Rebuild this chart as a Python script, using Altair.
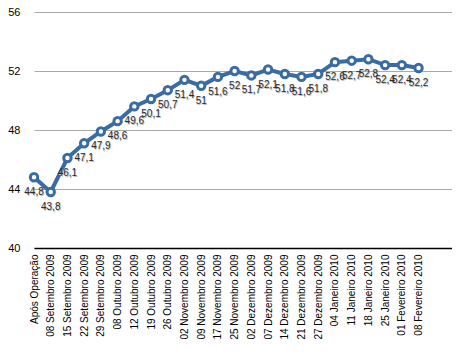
import altair as alt
import pandas as pd

categories = [
    "Após Operação", "08 Setembro 2009", "15 Setembro 2009", "22 Setembro 2009",
    "29 Setembro 2009", "08 Outubro 2009", "12 Outubro 2009", "19 Outubro 2009",
    "26 Outubro 2009", "02 Novembro 2009", "09 Novembro 2009", "17 Novembro 2009",
    "25 Novembro 2009", "02 Dezembro 2009", "07 Dezembro 2009", "14 Dezembro 2009",
    "21 Dezembro 2009", "27 Dezembro 2009", "04 Janeiro 2010", "11 Janeiro 2010",
    "18 Janeiro 2010", "25 Janeiro 2010", "01 Fevereiro 2010", "08 Fevereiro 2010",
]
values = [44.8, 43.8, 46.1, 47.1, 47.9, 48.6, 49.6, 50.1, 50.7, 51.4, 51.0, 51.6,
          52.0, 51.7, 52.1, 51.8, 51.6, 51.8, 52.6, 52.7, 52.8, 52.4, 52.4, 52.2]
y_ticks = [40, 44, 48, 52, 56]


def fmt(v):
    return str(int(v)) if float(v).is_integer() else str(v).replace(".", ",")


df = pd.DataFrame({"cat": categories, "val": values, "lbl": [fmt(v) for v in values]})

blue = "#3a6ca3"
x = alt.X("cat:N", sort=None, title=None,
          scale=alt.Scale(type="point", align=0, padding=1.28),
          axis=alt.Axis(labelAngle=-90, labelFontSize=10, labelFont="Liberation Sans",
                        labelColor="#000", ticks=False, domainColor="#000",
                        domainWidth=1.5, labelPadding=6, grid=False, labelLimit=200))
y = alt.Y("val:Q", title=None,
          scale=alt.Scale(domain=[40, 56], nice=False, zero=False),
          axis=alt.Axis(values=y_ticks, labelFontSize=11, labelFont="Liberation Sans",
                        labelColor="#000", ticks=False, domain=False, grid=True,
                        gridColor="#aaaaaa", labelPadding=14))

base = alt.Chart(df).encode(x=x, y=y)
line = base.mark_line(color=blue, strokeWidth=4)
pts = base.mark_point(shape="circle", filled=True, fill="white", stroke=blue,
                      strokeWidth=3, size=55, opacity=1)
shadow = base.mark_text(dy=16, dx=0.8, fontSize=10, font="Liberation Sans",
                        color="#bbbbbb").encode(text="lbl:N")
txt = base.mark_text(dy=15, fontSize=10, font="Liberation Sans",
                     color="#2a2a2a").encode(text="lbl:N")

chart = (line + pts + shadow + txt).properties(
    width=418, height=236,
    autosize=alt.AutoSizeParams(type="none"),
    padding={"left": 26, "top": 4, "right": 0, "bottom": 105},
).configure_view(stroke=None)

chart.save("out.html", embed_options={"renderer": "svg", "actions": False})
